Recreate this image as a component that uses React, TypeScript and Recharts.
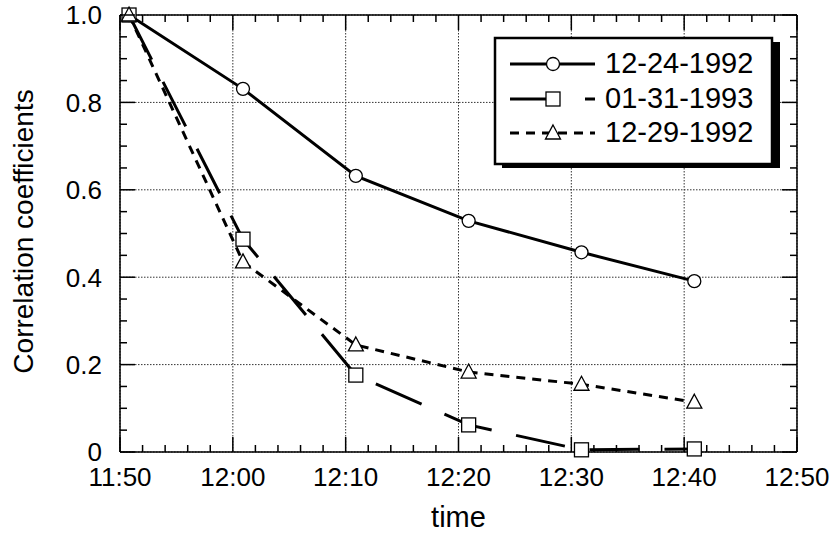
import React from "react";
import {
  LineChart,
  Line,
  XAxis,
  YAxis,
  CartesianGrid,
} from "recharts";

// minutes after 11:50
const times = [0.8, 10.9, 20.9, 30.9, 40.9, 50.9];
const dec24 = [1.0, 0.831, 0.632, 0.529, 0.457, 0.391];
const jan31 = [1.0, 0.487, 0.176, 0.062, 0.005, 0.007];
const dec29 = [1.0, 0.435, 0.245, 0.183, 0.155, 0.114];

const xMajor = [0, 10, 20, 30, 40, 50, 60];
const xLabels = ["11:50", "12:00", "12:10", "12:20", "12:30", "12:40", "12:50"];
const xMinor = Array.from({ length: 31 }, (_, i) => i * 2);
const yMajor = [0, 0.2, 0.4, 0.6, 0.8, 1.0];
const yMinor = Array.from({ length: 21 }, (_, i) => i * 0.05);

const data = times.map((t, i) => ({
  t,
  dec24: dec24[i],
  jan31: jan31[i],
  dec29: dec29[i],
}));

const FONT = "'Liberation Sans', Arial, Helvetica, sans-serif";
const W = 832;
const H = 535;
const MARGIN = { top: 15, right: 35, left: 0, bottom: 0 };
const Y_AXIS_W = 120;
const X_AXIS_H = 83;
// plot box, derived from the chart margins and axis sizes
const PLOT = {
  left: MARGIN.left + Y_AXIS_W,
  right: W - MARGIN.right,
  top: MARGIN.top,
  bottom: H - MARGIN.bottom - X_AXIS_H,
};
const MAJOR = 15;
const MINOR = 7;

const isMajorX = (v: number) => Math.abs(v / 10 - Math.round(v / 10)) < 1e-6;
const isMajorY = (v: number) => Math.abs(v * 5 - Math.round(v * 5)) < 1e-6;

const bottomTick = (p: any) => {
  const v = p.payload.value;
  if (!isMajorX(v)) return <g key={p.index} />;
  return (
    <text key={p.index} x={p.x} y={p.y} dy="0.71em" textAnchor="middle" fontSize={26} fontFamily={FONT} fill="#000">
      {xLabels[xMajor.indexOf(Math.round(v))]}
    </text>
  );
};

const leftTick = (p: any) => {
  const v = p.payload.value;
  return (
    <text key={p.index} x={p.x} y={p.y} dy="0.36em" textAnchor="end" fontSize={26} fontFamily={FONT} fill="#000">
      {v < 1e-6 ? "0" : v.toFixed(1)}
    </text>
  );
};

const circleDot = (p: any) => (
  <circle key={p.index} cx={p.cx} cy={p.cy} r={6.5} fill="#fff" stroke="#000" strokeWidth={1.3} />
);
const squareDot = (p: any) => (
  <rect key={p.index} x={p.cx - 7} y={p.cy - 7} width={14} height={14} fill="#fff" stroke="#000" strokeWidth={1.3} />
);
const triangleDot = (p: any) => (
  <polygon
    key={p.index}
    points={`${p.cx},${p.cy - 8} ${p.cx + 7.5},${p.cy + 6} ${p.cx - 7.5},${p.cy + 6}`}
    fill="#fff"
    stroke="#000"
    strokeWidth={1.3}
  />
);

const series = [
  { key: "dec24", name: "12-24-1992", dash: undefined, dot: circleDot },
  { key: "jan31", name: "01-31-1993", dash: "50 25", dot: squareDot },
  { key: "dec29", name: "12-29-1992", dash: "9 7", dot: triangleDot },
];

function LegendBox() {
  const rows = [31, 66, 100];
  return (
    <g transform="translate(490, 33)">
      <rect x={12} y={9} width={278} height={126} fill="#000" />
      <rect x={5} y={5} width={277} height={126} fill="#fff" stroke="#000" strokeWidth={2.5} />
      {series.map((s, i) => {
        const y = rows[i];
        return (
          <g key={s.key}>
            <line x1={20} y1={y} x2={105} y2={y} stroke="#000" strokeWidth={3} strokeDasharray={s.dash} />
            {s.dot({ cx: 63, cy: y, index: i })}
            <text x={115} y={y + 9} fontSize={29} fontFamily={FONT} fill="#000">
              {s.name}
            </text>
          </g>
        );
      })}
    </g>
  );
}

// inward tick marks on the four sides of the frame
function FrameTicks() {
  const sx = (v: number) => PLOT.left + ((PLOT.right - PLOT.left) * v) / 60;
  const sy = (v: number) => PLOT.bottom - (PLOT.bottom - PLOT.top) * v;
  const st = { stroke: "#000", strokeWidth: 1.5 };
  return (
    <g>
      {xMinor.map((v) => {
        const len = isMajorX(v) ? MAJOR : MINOR;
        const x = sx(v);
        return (
          <g key={`x${v}`}>
            <line x1={x} y1={PLOT.bottom} x2={x} y2={PLOT.bottom - len} {...st} />
            <line x1={x} y1={PLOT.top} x2={x} y2={PLOT.top + len} {...st} />
          </g>
        );
      })}
      {yMinor.map((v) => {
        const len = isMajorY(v) ? MAJOR : MINOR;
        const y = sy(v);
        return (
          <g key={`y${v}`}>
            <line x1={PLOT.left} y1={y} x2={PLOT.left + len} y2={y} {...st} />
            <line x1={PLOT.right} y1={y} x2={PLOT.right - len} y2={y} {...st} />
          </g>
        );
      })}
    </g>
  );
}

export default function App() {
  return (
    <div style={{ position: "absolute", left: 0, top: 0, width: W, height: H, background: "#fff" }}>
      <LineChart width={W} height={H} data={data} margin={MARGIN}>
        {/* frame lines on top and right */}
        <XAxis xAxisId="t" orientation="top" type="number" dataKey="t" domain={[0, 60]} tick={false} tickLine={false} height={0.01} stroke="#000" strokeWidth={1.5} />
        <YAxis yAxisId="r" orientation="right" type="number" domain={[0, 1]} tick={false} tickLine={false} width={0.01} stroke="#000" strokeWidth={1.5} />

        <XAxis
          xAxisId="x"
          type="number"
          dataKey="t"
          domain={[0, 60]}
          ticks={xMajor}
          interval={0}
          tick={bottomTick}
          tickLine={false}
          tickSize={0}
          tickMargin={16}
          height={X_AXIS_H}
          stroke="#000"
          strokeWidth={1.5}
        />
        <YAxis
          yAxisId="y"
          type="number"
          domain={[0, 1]}
          ticks={yMajor}
          interval={0}
          tick={leftTick}
          tickLine={false}
          tickSize={0}
          tickMargin={18}
          width={Y_AXIS_W}
          stroke="#000"
          strokeWidth={1.5}
        />

        <CartesianGrid
          xAxisId="x"
          yAxisId="y"
          stroke="#333"
          strokeDasharray="1.5 1.5"
          verticalValues={xMajor}
          horizontalValues={yMajor}
        />

        {series.map((s) => (
          <Line
            key={s.key}
            xAxisId="x"
            yAxisId="y"
            dataKey={s.key}
            name={s.name}
            stroke="#000"
            strokeWidth={3}
            strokeDasharray={s.dash}
            dot={s.dot}
            activeDot={false}
            isAnimationActive={false}
          />
        ))}
      </LineChart>

      {/* frame ticks, axis titles and legend */}
      <svg width={W} height={H} style={{ position: "absolute", left: 0, top: 0, pointerEvents: "none" }}>
        <FrameTicks />
        <text
          x={33}
          y={231.5}
          transform="rotate(-90, 33, 231.5)"
          textAnchor="middle"
          fontSize={28}
          fontFamily={FONT}
          fill="#000"
        >
          Correlation coefficients
        </text>
        <text x={458.5} y={527} textAnchor="middle" fontSize={29} fontFamily={FONT} fill="#000">
          time
        </text>
        <LegendBox />
      </svg>
    </div>
  );
}
